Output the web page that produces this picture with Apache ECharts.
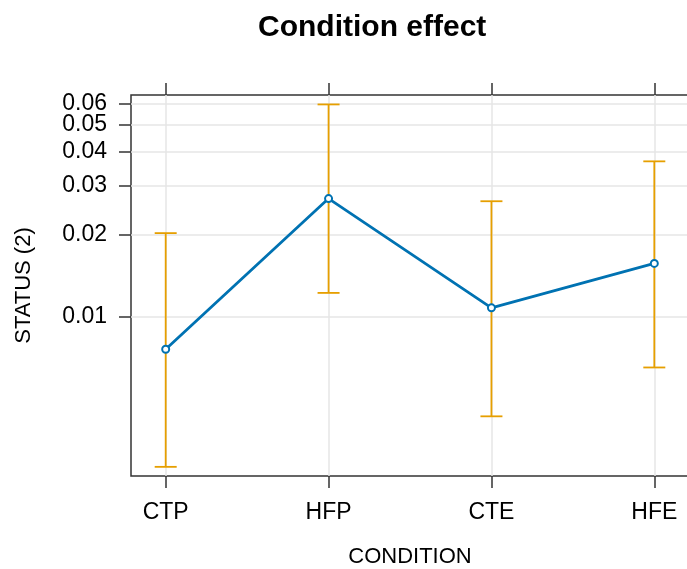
<!DOCTYPE html>
<html>
<head>
<meta charset="utf-8">
<script src="https://cdn.jsdelivr.net/npm/echarts@6/dist/echarts.min.js"></script>
<style>
  html, body { margin: 0; padding: 0; background: #fff; }
  #chart { width: 687px; height: 569px; }
</style>
</head>
<body>
<div id="chart"></div>
<script>
// categories and fitted effects
var categories = ["CTP", "HFP", "CTE", "HFE"];
var fit   = [0.00762, 0.0270, 0.01079, 0.01567];
var lower = [0.00284, 0.01223, 0.00434, 0.00654];
var upper = [0.0202, 0.0595, 0.0264, 0.0369];
var yTicks = [0.01, 0.02, 0.03, 0.04, 0.05, 0.06];
var xPos = [0, 1, 2, 3];

var lineData = xPos.map(function (x, i) { return [x, fit[i]]; });
var barData = xPos.map(function (x, i) { return [x, lower[i], upper[i]]; });
// top tick first so echarts' min/max label overlap check doesn't drop 0.05
var yTickOrder = [yTicks[yTicks.length - 1]].concat(yTicks.slice(0, -1));

var chart = echarts.init(document.getElementById("chart"));
var font = "Liberation Sans, Arial, sans-serif";

chart.setOption({
  animation: false,
  title: {
    text: "Condition effect",
    left: 253,
    top: 8,
    textStyle: { fontFamily: font, fontSize: 30, fontWeight: "bold", color: "#000" }
  },
  grid: {
    left: 131, right: -2, top: 95, bottom: 93,
    outerBoundsMode: "none",
    containLabel: false,
    show: true, borderColor: "#333", borderWidth: 1.5, backgroundColor: "#fff"
  },
  xAxis: [{
    type: "value",
    min: -0.213, max: 3.213,
    name: "CONDITION",
    nameLocation: "middle",
    nameGap: 70,
    nameTextStyle: { fontFamily: font, fontSize: 22, color: "#000" },
    axisLine: { show: false, onZero: false },
    axisTick: { show: true, length: 12, customValues: xPos, lineStyle: { color: "#333", width: 1.5 } },
    axisLabel: {
      customValues: xPos,
      margin: 25,
      showMinLabel: true, showMaxLabel: true,
      fontFamily: font, fontSize: 23, color: "#000",
      formatter: function (v) { return categories[Math.round(v)]; }
    },
    splitLine: { show: true, lineStyle: { color: "#e6e6e6", width: 1.5 } }
  }, {
    type: "value",
    position: "top",
    min: -0.213, max: 3.213,
    axisLine: { show: false, onZero: false },
    axisTick: { show: true, length: 12, customValues: xPos, lineStyle: { color: "#333", width: 1.5 } },
    axisLabel: { show: false },
    splitLine: { show: false }
  }],
  yAxis: {
    type: "log",
    logBase: 10,
    min: 0.00263, max: 0.0644,
    name: "STATUS (2)",
    nameLocation: "middle",
    nameGap: 96,
    nameTextStyle: { fontFamily: font, fontSize: 22, color: "#000" },
    axisLine: { show: false, onZero: false },
    axisTick: { show: true, length: 12, customValues: yTickOrder, lineStyle: { color: "#333", width: 1.5 } },
    axisLabel: {
      customValues: yTickOrder,
      margin: 24,
      hideOverlap: false,
      fontFamily: font, fontSize: 23, color: "#000",
      formatter: function (v) { return v.toFixed(2); }
    },
    splitLine: { show: true, lineStyle: { color: "#e6e6e6", width: 1.5 } },
    minorTick: { show: false },
    minorSplitLine: { show: false }
  },
  series: [{
    type: "custom",
    xAxisIndex: 0,
    data: barData,
    z: 2,
    renderItem: function (params, api) {
      var x = api.value(0);
      var lo = api.coord([x, api.value(1)]);
      var hi = api.coord([x, api.value(2)]);
      var cap = 11;
      var style = { stroke: "#E69F00", lineWidth: 1.8 };
      return {
        type: "group",
        children: [
          { type: "line", shape: { x1: lo[0], y1: lo[1], x2: hi[0], y2: hi[1] }, style: style },
          { type: "line", shape: { x1: lo[0] - cap, y1: lo[1], x2: lo[0] + cap, y2: lo[1] }, style: style },
          { type: "line", shape: { x1: hi[0] - cap, y1: hi[1], x2: hi[0] + cap, y2: hi[1] }, style: style }
        ]
      };
    }
  }, {
    type: "line",
    xAxisIndex: 0,
    data: lineData,
    z: 3,
    symbol: "emptyCircle",
    symbolSize: 7,
    lineStyle: { color: "#0072B2", width: 2.8 },
    itemStyle: { color: "#0072B2", borderColor: "#0072B2", borderWidth: 2.5 }
  }]
});

window.addEventListener("resize", function () {
  chart.resize();
});
</script>
</body>
</html>
